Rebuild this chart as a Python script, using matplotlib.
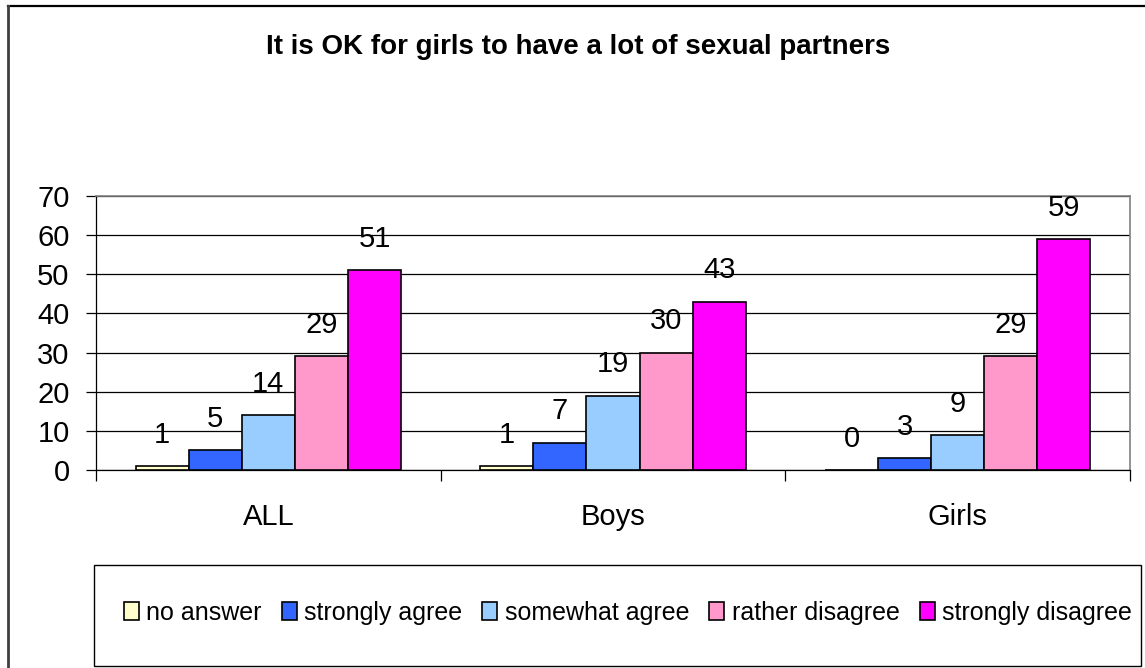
import matplotlib.pyplot as plt
import numpy as np
from matplotlib.patches import Rectangle
from matplotlib.lines import Line2D

plt.rcParams['font.family'] = ['Liberation Sans', 'DejaVu Sans']

groups = ["ALL", "Boys", "Girls"]
answers = ["no answer", "strongly agree", "somewhat agree", "rather disagree", "strongly disagree"]
values = {
    "no answer": [1, 1, 0],
    "strongly agree": [5, 7, 3],
    "somewhat agree": [14, 19, 9],
    "rather disagree": [29, 30, 29],
    "strongly disagree": [51, 43, 59],
}
colors = ["#FFFFCC", "#3366FF", "#99CCFF", "#FF99CC", "#FF00FF"]

fig = plt.figure(figsize=(11.45, 6.68), dpi=100)
W, H = 1145, 668

# outer chart frame (only top and left edges fall inside the image)
fig.add_artist(Line2D([8 / W, 1.0], [1 - 6 / H, 1 - 6 / H], transform=fig.transFigure,
                      color="black", lw=1.6))
fig.add_artist(Line2D([8 / W, 8 / W], [0, 1 - 6 / H], transform=fig.transFigure,
                      color="#404040", lw=2.0))

ax = fig.add_axes([96 / W, (H - 470) / H, (1130 - 96) / W, (470 - 196) / H])

x = np.arange(len(groups))
width = 0.154
for i, (name, col) in enumerate(zip(answers, colors)):
    pos = x + (i - 2) * width
    vals = values[name]
    ax.bar(pos, vals, width, color=col, edgecolor="black", linewidth=1.2,
           label=name, zorder=3)
    for px, v in zip(pos, vals):
        ax.annotate(str(v), (px, v), xytext=(0, 22.5), textcoords="offset points",
                    ha="center", va="center", fontsize=21)

ax.set_xlim(-0.5, 2.5)
ax.set_ylim(0, 70)
ax.set_yticks(range(0, 71, 10))
ax.yaxis.grid(True, color="black", linewidth=0.9, zorder=0)
ax.tick_params(axis="y", labelsize=21, length=7, width=0.9, direction="out", pad=12)

ax.set_xticks([-0.5, 0.5, 1.5, 2.5])
ax.set_xticklabels([])
ax.tick_params(axis="x", which="major", length=8, width=0.9, direction="out")
ax.set_xticks(x, minor=True)
ax.set_xticklabels(groups, minor=True)
ax.tick_params(axis="x", which="minor", length=0, labelsize=21, pad=24)

for s in ["left", "bottom"]:
    ax.spines[s].set_color("black")
    ax.spines[s].set_linewidth(0.9)
for s in ["top", "right"]:
    ax.spines[s].set_color("#808080")
    ax.spines[s].set_linewidth(1.2)

fig.text(578 / W, 1 - 47 / H, "It is OK for girls to have a lot of sexual partners",
         ha="center", va="center", fontsize=20, fontweight="bold")

# legend box below the plot
fig.add_artist(Rectangle((94 / W, (H - 666) / H), (1141 - 94) / W, (666 - 565) / H,
                         transform=fig.transFigure, facecolor="white",
                         edgecolor="black", linewidth=1.0))
handles, labels = ax.get_legend_handles_labels()
fig.legend(handles, labels, loc="center", bbox_to_anchor=(628 / W, 1 - 613 / H),
           ncol=5, frameon=False, fontsize=18, handlelength=0.6, handleheight=0.75,
           handletextpad=0.3, columnspacing=0.8, borderaxespad=0, borderpad=0)

fig.savefig("out.png", dpi=100)
